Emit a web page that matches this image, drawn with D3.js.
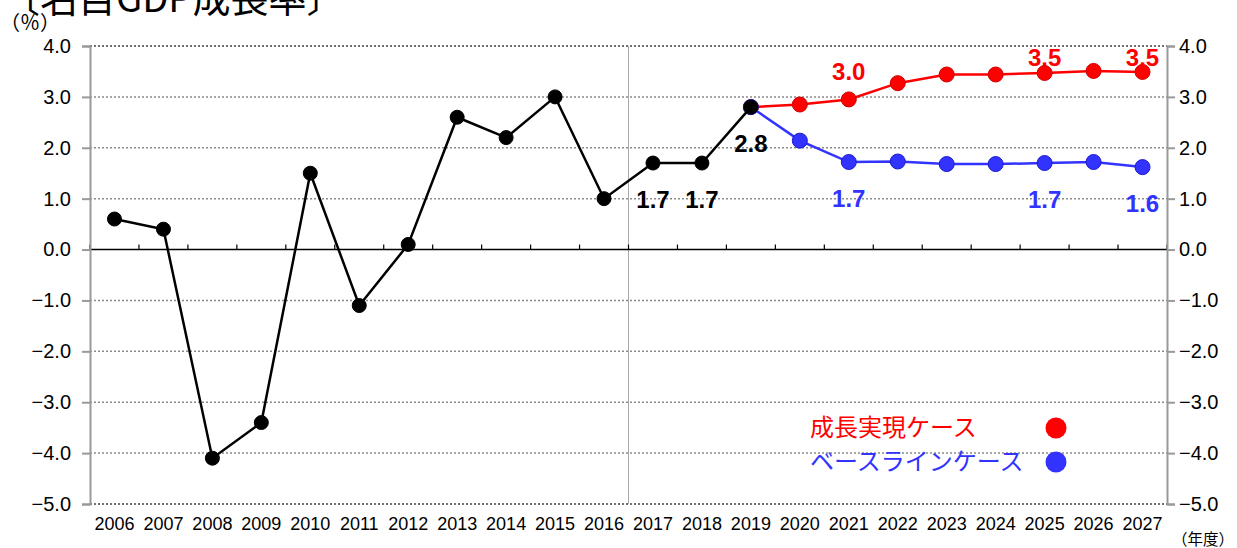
<!DOCTYPE html>
<html>
<head>
<meta charset="utf-8">
<script src="https://cdn.jsdelivr.net/npm/d3@7"></script>
<style>
  body { margin: 0; background: #fff; }
  svg { display: block; }
</style>
</head>
<body>
<svg id="chart" width="1237" height="548"></svg>
<script>
// Data
const years = d3.range(2006, 2028).map(String);
const actualYears = ["2006","2007","2008","2009","2010","2011","2012","2013","2014","2015","2016","2017","2018","2019"];
const actualValues = [0.6, 0.4, -4.1, -3.4, 1.5, -1.1, 0.1, 2.6, 2.2, 3.0, 1.0, 1.7, 1.7, 2.8];
const caseYears = ["2019","2020","2021","2022","2023","2024","2025","2026","2027"];
const growthValues = [2.8, 2.85, 2.95, 3.27, 3.44, 3.44, 3.47, 3.51, 3.49];
const baseValues = [2.8, 2.14, 1.72, 1.73, 1.68, 1.68, 1.70, 1.72, 1.62];
const yTicks = [4, 3, 2, 1, 0, -1, -2, -3, -4, -5];

// which points get a value label
const actualLabels = [{ year: "2017", text: "1.7" }, { year: "2018", text: "1.7" }, { year: "2019", text: "2.8" }];
const growthLabels = [{ year: "2021", text: "3.0" }, { year: "2025", text: "3.5" }, { year: "2027", text: "3.5" }];
const baseLabels = [{ year: "2021", text: "1.7" }, { year: "2025", text: "1.7" }, { year: "2027", text: "1.6" }];

const legendNames = ["成長実現ケース", "ベースラインケース"];

const RED = "#ff0000";
const BLUE = "#3333ff";
const jp = "'Noto Sans CJK JP', sans-serif";
const num = "'Liberation Sans', Arial, sans-serif";

const svg = d3.select("#chart");
const margin = { top: 46, right: 70, bottom: 44, left: 90 };
const width = 1237, height = 548;

const x = d3.scaleBand().domain(years).range([margin.left, width - margin.right]);
const y = d3.scaleLinear().domain([-5, 4]).range([height - margin.bottom, margin.top]);
const cx = d => x(d) + x.bandwidth() / 2;

// gridlines (dotted)
svg.append("g")
  .selectAll("line")
  .data(yTicks.filter(d => d !== 0))
  .join("line")
  .attr("x1", margin.left).attr("x2", width - margin.right)
  .attr("y1", d => y(d)).attr("y2", d => y(d))
  .attr("stroke", d => (d === 4 || d === -5) ? "#444" : "#8a8a8a")
  .attr("stroke-width", 1.5)
  .attr("stroke-dasharray", "2,2");

// divider between actual and projection
svg.append("line")
  .attr("x1", x("2017")).attr("x2", x("2017"))
  .attr("y1", margin.top).attr("y2", height - margin.bottom)
  .attr("stroke", "#aaa").attr("stroke-width", 1);

// zero line with category ticks
const zero = svg.append("g").attr("transform", `translate(0,${y(0)})`);
zero.append("line")
  .attr("x1", margin.left).attr("x2", width - margin.right)
  .attr("stroke", "#000").attr("stroke-width", 1.5);
zero.selectAll(".ztick")
  .data(years.concat(["end"]))
  .join("line")
  .attr("x1", d => d === "end" ? x.range()[1] : x(d))
  .attr("x2", d => d === "end" ? x.range()[1] : x(d))
  .attr("y1", 0).attr("y2", -5)
  .attr("stroke", "#000").attr("stroke-width", 1.2);

// left and right axes
const fmt = d => d3.format(".1f")(d).replace("-", "\u2212");
const leftAxis = svg.append("g")
  .attr("transform", `translate(${margin.left},0)`)
  .call(d3.axisLeft(y).tickValues(yTicks).tickFormat(fmt).tickSize(8).tickPadding(11));
const rightAxis = svg.append("g")
  .attr("transform", `translate(${width - margin.right},0)`)
  .call(d3.axisRight(y).tickValues(yTicks).tickFormat(fmt).tickSize(8).tickPadding(4));
[leftAxis, rightAxis].forEach(a => {
  a.select(".domain").attr("stroke", "#999").attr("stroke-width", 2);
  a.selectAll(".tick line").attr("stroke", "#999").attr("stroke-width", 2);
  a.selectAll("text").attr("font-family", num).attr("font-size", 20).attr("fill", "#000");
});

// x labels
const xAxis = svg.append("g")
  .attr("transform", `translate(0,${height - margin.bottom})`)
  .call(d3.axisBottom(x).tickSize(0).tickPadding(13));
xAxis.select(".domain").remove();
xAxis.selectAll("text").attr("font-family", num).attr("font-size", 18).attr("fill", "#000");

// lines
const line = d3.line().x(d => cx(d[0])).y(d => y(d[1]));
function drawSeries(yrs, vals, color, stroke, r) {
  const pts = yrs.map((d, i) => [d, vals[i]]);
  svg.append("path")
    .datum(pts)
    .attr("fill", "none")
    .attr("stroke", color)
    .attr("stroke-width", 2.5)
    .attr("d", line);
  svg.append("g")
    .selectAll("circle")
    .data(pts)
    .join("circle")
    .attr("cx", d => cx(d[0]))
    .attr("cy", d => y(d[1]))
    .attr("r", r)
    .attr("fill", color)
    .attr("stroke", stroke)
    .attr("stroke-width", 1);
}
drawSeries(caseYears, growthValues, RED, "#cc0000", 7.5);
drawSeries(caseYears, baseValues, BLUE, "#1a1acc", 7.5);
drawSeries(actualYears, actualValues, "#000", "#000", 7);

// value labels
function drawLabels(labels, yrs, vals, color, dy) {
  svg.append("g")
    .selectAll("text")
    .data(labels)
    .join("text")
    .attr("x", d => cx(d.year))
    .attr("y", d => {
      const py = y(vals[yrs.indexOf(d.year)]) + dy;
      return Math.max(py, margin.top + 12) + 8;
    })
    .attr("text-anchor", "middle")
    .attr("font-family", "'Liberation Sans Narrow', 'Liberation Sans', sans-serif")
    .attr("font-weight", "bold")
    .attr("font-size", 24)
    .attr("fill", color)
    .text(d => d.text);
}
drawLabels(actualLabels, actualYears, actualValues, "#000", 37);
drawLabels(growthLabels, caseYears, growthValues, RED, -27);
drawLabels(baseLabels, caseYears, baseValues, BLUE, 37);

// legend
const legend = svg.append("g").attr("transform", "translate(810,428)");
legendNames.forEach((name, i) => {
  const color = i === 0 ? RED : BLUE;
  legend.append("text")
    .attr("x", 0).attr("y", i * 34 + 8)
    .attr("font-family", jp).attr("font-size", 24)
    .attr("fill", color)
    .text(name);
  legend.append("circle")
    .attr("cx", 246).attr("cy", i * 34)
    .attr("r", 10.5)
    .attr("fill", color);
});

// titles / units
svg.append("text")
  .attr("x", 2).attr("y", 12)
  .attr("font-family", jp).attr("font-size", 38).attr("fill", "#000")
  .text("〔名目GDP成長率〕");
svg.append("text")
  .attr("x", 0).attr("y", 30)
  .attr("font-family", jp).attr("font-size", 20).attr("fill", "#000")
  .text("（％）");
svg.append("text")
  .attr("x", 1234).attr("y", 545)
  .attr("text-anchor", "end")
  .attr("font-family", jp).attr("font-size", 15.5).attr("fill", "#000")
  .text("（年度）");
</script>
</body>
</html>
